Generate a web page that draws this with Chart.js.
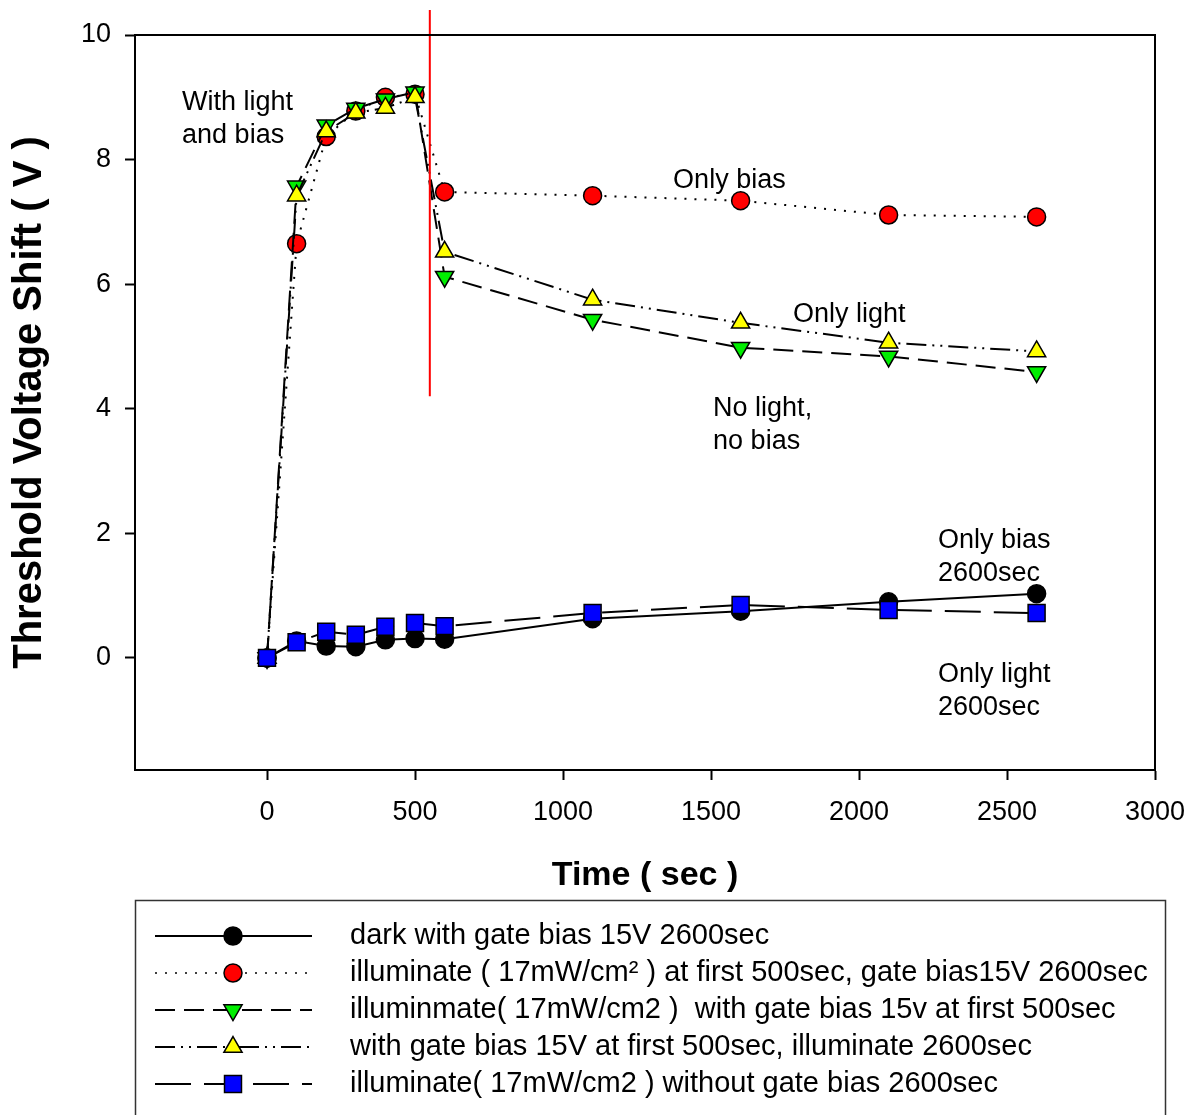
<!DOCTYPE html>
<html>
<head>
<meta charset="utf-8">
<script src="https://cdn.jsdelivr.net/npm/chart.js@4.4.0/dist/chart.umd.min.js"></script>
<style>
  body { margin: 0; background: #fff; }
  #wrap { width: 1198px; height: 1115px; }
</style>
</head>
<body>
<div id="wrap"><canvas id="myChart" width="1198" height="1115"></canvas></div>
<script>
// Data
const timeSec = [0, 100, 200, 300, 400, 500, 600, 1100, 1600, 2100, 2600];
const darkBias = [0, 0.27, 0.19, 0.18, 0.29, 0.31, 0.30, 0.63, 0.75, 0.90, 1.03];
const lightFirstBias = [0, 6.65, 8.37, 8.78, 9.0, 9.05, 7.48, 7.42, 7.34, 7.11, 7.08];
const lightBiasFirst = [0, 7.57, 8.55, 8.82, 8.97, 9.08, 6.12, 5.43, 4.98, 4.84, 4.59];
const biasFirstLight = [0, 7.42, 8.45, 8.75, 8.83, 9.0, 6.52, 5.75, 5.38, 5.06, 4.92];
const lightNoBias = [0, 0.25, 0.42, 0.37, 0.50, 0.56, 0.51, 0.72, 0.85, 0.77, 0.72];

// red marker line at the end of the first stage
const markerX = [550, 550];
const markerY = [10.4, 4.2];

const xTicks = [0, 500, 1000, 1500, 2000, 2500, 3000];
const yTicks = [0, 2, 4, 6, 8, 10];

const legendLabels = [
  "dark with gate bias 15V 2600sec",
  "illuminate ( 17mW/cm² ) at first 500sec, gate bias15V 2600sec",
  "illuminmate( 17mW/cm2 )  with gate bias 15v at first 500sec",
  "with gate bias 15V at first 500sec, illuminate 2600sec",
  "illuminate( 17mW/cm2 ) without gate bias 2600sec",
];

const noteTexts = [
  ["With light", "and bias"],
  ["Only bias"],
  ["Only light"],
  ["No light,", "no bias"],
  ["Only bias", "2600sec"],
  ["Only light", "2600sec"],
];
const noteX = [-287, 1372, 1777, 1507, 2267, 2267];
const noteY = [8.92, 7.66, 5.52, 4.01, 1.88, -0.26];

const FONT = '"Liberation Sans", Arial, sans-serif';
Chart.defaults.font.family = FONT;
Chart.defaults.color = "#000";

function toPoints(xs, ys) {
  return xs.map((x, i) => ({ x: x, y: ys[i] }));
}

function series(values, color, style, dash, radius, rotation, order) {
  return {
    data: toPoints(timeSec, values),
    borderColor: "#000",
    borderWidth: 2,
    borderDash: dash,
    pointStyle: style,
    pointRadius: radius,
    pointHoverRadius: radius,
    pointRotation: rotation,
    pointBackgroundColor: color,
    pointBorderColor: "#000",
    pointBorderWidth: 1.5,
    tension: 0,
    order: order,
  };
}

const datasets = [
  series(darkBias, "#000000", "circle", [], 9, 0, 5),
  series(lightFirstBias, "#ff0000", "circle", [2, 8], 9, 0, 4),
  series(lightBiasFirst, "#00ee00", "triangle", [20, 9], 10.5, 180, 3),
  series(biasFirstLight, "#ffff00", "triangle", [20, 6, 2, 6, 2, 6], 10.5, 0, 2),
  series(lightNoBias, "#0000ff", "rect", [36, 13], 12, 0, 1),
  {
    data: toPoints(markerX, markerY),
    borderColor: "#ff0000",
    borderWidth: 2,
    pointRadius: 0,
    clip: false,
    order: 0,
  },
];

// Frame, text notes and the boxed legend
const extrasPlugin = {
  id: "extras",
  afterDraw(chart) {
    const ctx = chart.ctx;
    const area = chart.chartArea;
    const xs = chart.scales.x;
    const ys = chart.scales.y;

    ctx.save();
    ctx.strokeStyle = "#000";
    ctx.lineWidth = 2;
    ctx.beginPath();
    ctx.moveTo(area.left, area.top);
    ctx.lineTo(area.right, area.top);
    ctx.lineTo(area.right, area.bottom);
    ctx.stroke();

    ctx.fillStyle = "#000";
    ctx.font = "27px " + FONT;
    ctx.textAlign = "left";
    ctx.textBaseline = "middle";
    noteTexts.forEach((lines, i) => {
      const px = xs.getPixelForValue(noteX[i]);
      const py = ys.getPixelForValue(noteY[i]);
      lines.forEach((t, j) => ctx.fillText(t, px, py + j * 33));
    });

    // legend box
    ctx.lineWidth = 1.5;
    ctx.strokeStyle = "#333";
    ctx.strokeRect(135.5, 900.5, 1030, 260);

    ctx.font = "29px " + FONT;
    legendLabels.forEach((label, i) => {
      const ds = chart.data.datasets[i];
      const y = 936 + i * 37;
      ctx.strokeStyle = "#000";
      ctx.lineWidth = i === 1 ? 1.5 : 2;
      ctx.setLineDash(ds.borderDash);
      ctx.beginPath();
      ctx.moveTo(155, y);
      ctx.lineTo(312, y);
      ctx.stroke();
      ctx.setLineDash([]);
      ctx.fillStyle = ds.pointBackgroundColor;
      ctx.lineWidth = ds.pointBorderWidth;
      Chart.helpers.drawPoint(ctx, {
        pointStyle: ds.pointStyle,
        rotation: ds.pointRotation,
        radius: ds.pointRadius,
        borderWidth: ds.pointBorderWidth,
      }, 233, y);
      ctx.fillStyle = "#000";
      ctx.fillText(label, 350, y);
    });
    ctx.restore();
  },
};

const ctx = document.getElementById("myChart").getContext("2d");
const myChart = new Chart(ctx, {
  type: "line",
  data: { datasets: datasets },
  options: {
    responsive: false,
    animation: false,
    layout: { padding: { left: 0, top: 35, right: 43, bottom: 220 } },
    plugins: {
      legend: { display: false },
      tooltip: { enabled: false },
    },
    scales: {
      x: {
        type: "linear",
        min: -446,
        max: 3000,
        afterBuildTicks: (scale) => {
          scale.ticks = xTicks.map((v) => ({ value: v }));
        },
        afterFit: (scale) => {
          scale.height = 125;
          scale.paddingLeft = 0;
          scale.paddingRight = 0;
        },
        ticks: {
          callback: (v) => String(v),
          font: { size: 27 },
          padding: 16,
          maxRotation: 0,
          autoSkip: false,
        },
        grid: {
          drawOnChartArea: false,
          tickLength: 10,
          tickWidth: 2,
          color: "#000",
        },
        border: { color: "#000", width: 2 },
        title: {
          display: true,
          text: "Time ( sec )",
          font: { size: 34, weight: "bold", lineHeight: 1 },
          padding: { top: 0, bottom: 2 },
        },
      },
      y: {
        type: "linear",
        min: -1.8,
        max: 10,
        afterBuildTicks: (scale) => {
          scale.ticks = yTicks.map((v) => ({ value: v }));
        },
        afterFit: (scale) => {
          scale.width = 135;
          scale.paddingTop = 0;
          scale.paddingBottom = 0;
        },
        ticks: {
          callback: (v) => String(v),
          font: { size: 27 },
          padding: 14,
          autoSkip: false,
        },
        grid: {
          drawOnChartArea: false,
          tickLength: 10,
          tickWidth: 2,
          color: "#000",
        },
        border: { color: "#000", width: 2 },
        title: {
          display: true,
          text: "Threshold Voltage Shift ( V )",
          font: { size: 40, weight: "bold", lineHeight: 1 },
          padding: { top: 10, bottom: 0 },
        },
      },
    },
  },
  plugins: [extrasPlugin],
});
</script>
</body>
</html>
